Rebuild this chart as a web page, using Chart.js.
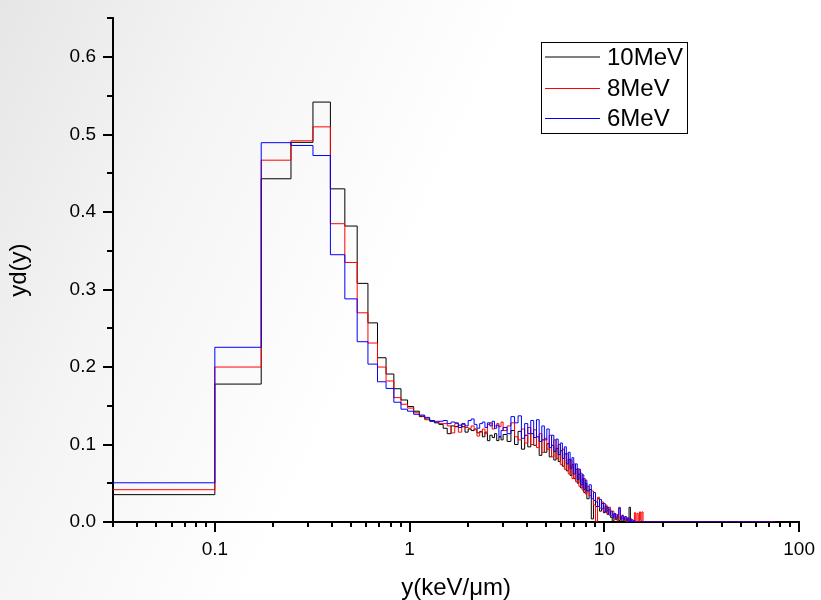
<!DOCTYPE html>
<html><head><meta charset="utf-8">
<script src="https://cdn.jsdelivr.net/npm/chart.js@4/dist/chart.umd.min.js"></script>
<style>
html,body{margin:0;padding:0;}
body{width:821px;height:600px;overflow:hidden;background:linear-gradient(115deg,#e6e6e6 0%,#f4f4f4 22%,#ffffff 48%,#ffffff 100%);}
#wrap{position:relative;width:821px;height:600px;}
</style></head><body><div id="wrap"><canvas id="c" width="821" height="600"></canvas></div>
<script>
// ---- data ----
const seriesLabels = ['10MeV', '8MeV', '6MeV'];
// histogram bin grid: [first left edge, bin width, number of bins] (keV/um)
const binSegments = [[0.027, 0.073, 41], [3.020, 0.146, 35], [8.130, 0.219, 36]];
const tailStart = 16.014;   // empty bins up to the end of the spectrum
const tailEnd = 75;

const yd10 = [
  0.0353, 0.178, 0.443, 0.490, 0.542, 0.430, 0.382, 0.308, 0.257, 0.212, 0.191, 0.172, 0.1575, 0.149, 0.143, 0.136,
  0.133, 0.130, 0.128, 0.126, 0.121, 0.114, 0.124, 0.123, 0.125, 0.123, 0.116, 0.120, 0.118, 0.120, 0.115, 0.117,
  0.110, 0.116, 0.105, 0.112, 0.109, 0.114, 0.105, 0.110, 0.106,
  0.113, 0.104, 0.118, 0.100, 0.117, 0.094, 0.112, 0.097, 0.114, 0.099, 0.110, 0.086, 0.106, 0.090, 0.101, 0.084,
  0.099, 0.080, 0.095, 0.078, 0.092, 0.072, 0.088, 0.066, 0.081, 0.060, 0.074, 0.056, 0.068, 0.050, 0.062, 0.044,
  0.056, 0.038, 0.050,
  0.030, 0.042, 0.004, 0.028, 0.020, 0.030, 0.014, 0.024, 0.012, 0.020, 0.010, 0.016, 0.006, 0.001, 0.010, 0.003,
  0.008, 0.002, 0.006, 0.001, 0.005, 0.000, 0.003, 0.000, 0.019, 0.000, 0.000, 0.000, 0.000, 0.000, 0.000, 0.000,
  0.000, 0.000, 0.000, 0.000,
  0.000
];
const yd8 = [
  0.0417, 0.200, 0.467, 0.492, 0.510, 0.385, 0.335, 0.270, 0.231, 0.200, 0.182, 0.1605, 0.152, 0.147, 0.141, 0.137,
  0.132, 0.131, 0.130, 0.127, 0.127, 0.124, 0.115, 0.127, 0.116, 0.126, 0.122, 0.121, 0.124, 0.119, 0.111, 0.116,
  0.120, 0.114, 0.126, 0.128, 0.120, 0.124, 0.127, 0.123, 0.129,
  0.118, 0.124, 0.128, 0.110, 0.106, 0.120, 0.102, 0.122, 0.100, 0.119, 0.096, 0.114, 0.090, 0.108, 0.094, 0.112,
  0.084, 0.106, 0.082, 0.100, 0.074, 0.094, 0.068, 0.088, 0.062, 0.080, 0.056, 0.075, 0.052, 0.069, 0.046, 0.063,
  0.041, 0.056, 0.036,
  0.046, 0.034, 0.040, 0.022, 0.001, 0.032, 0.018, 0.026, 0.014, 0.022, 0.011, 0.019, 0.008, 0.014, 0.004, 0.010,
  0.002, 0.019, 0.005, 0.009, 0.002, 0.007, 0.000, 0.006, 0.001, 0.000, 0.003, 0.000, 0.012, 0.000, 0.011, 0.000,
  0.013, 0.002, 0.013, 0.000,
  0.000
];
const yd6 = [
  0.0506, 0.2255, 0.4896, 0.486, 0.473, 0.345, 0.288, 0.2327, 0.2038, 0.181, 0.1724, 0.1546, 0.1456, 0.143, 0.139, 0.138,
  0.135, 0.131, 0.129, 0.130, 0.131, 0.127, 0.129, 0.128, 0.122, 0.127, 0.124, 0.131, 0.133, 0.126, 0.121, 0.127,
  0.129, 0.122, 0.128, 0.124, 0.130, 0.121, 0.125, 0.110, 0.118,
  0.122, 0.114, 0.136, 0.128, 0.137, 0.108, 0.127, 0.114, 0.131, 0.109, 0.132, 0.104, 0.124, 0.106, 0.120, 0.096,
  0.112, 0.091, 0.107, 0.087, 0.102, 0.082, 0.097, 0.075, 0.090, 0.069, 0.083, 0.062, 0.075, 0.055, 0.068, 0.048,
  0.061, 0.042, 0.054,
  0.040, 0.048, 0.030, 0.038, 0.026, 0.020, 0.029, 0.017, 0.024, 0.013, 0.019, 0.009, 0.014, 0.006, 0.011, 0.005,
  0.009, 0.018, 0.004, 0.008, 0.003, 0.007, 0.002, 0.005, 0.000, 0.004, 0.000, 0.002, 0.000, 0.000, 0.000, 0.000,
  0.000, 0.000, 0.000, 0.000,
  0.000
];
const xTickLabels = [0.1, 1, 10, 100];
const yTickLabels = [0, 0.1, 0.2, 0.3, 0.4, 0.5, 0.6];

// ---- build ----
const edges = [];
binSegments.forEach(([start, w, n]) => { for (let i = 0; i < n; i++) edges.push(+(start + w * i).toFixed(4)); });
edges.push(tailStart, tailEnd);

function stepPoints(vals) {
  const pts = vals.map((v, i) => ({ x: edges[i], y: v }));
  pts.push({ x: edges[vals.length], y: vals[vals.length - 1] });
  return pts;
}
const colors = ['#000000', '#ff0000', '#0000ff'];
const FONT = "'Liberation Sans', Arial, sans-serif";

const axisTicks = {
  id: 'axisTicks',
  afterDraw(chart) {
    const { ctx, chartArea: a, scales: { x, y } } = chart;
    ctx.save();
    ctx.strokeStyle = '#000';
    ctx.lineWidth = 2;
    const seg = (x1, y1, x2, y2) => { ctx.beginPath(); ctx.moveTo(x1, y1); ctx.lineTo(x2, y2); ctx.stroke(); };
    const xMinor = [];
    [0.01, 0.1, 1, 10].forEach(d => { for (let m = 2; m <= 9; m++) { const v = +(m * d).toPrecision(3); if (v >= 0.03 && v <= 100) xMinor.push(v); } });
    xMinor.forEach(v => { const p = Math.round(x.getPixelForValue(v)); seg(p, a.bottom, p, a.bottom + 5); });
    xTickLabels.forEach(v => { const p = Math.round(x.getPixelForValue(v)); seg(p, a.bottom, p, a.bottom + 10); });
    yTickLabels.forEach(v => { const p = Math.round(y.getPixelForValue(v)); seg(a.left - 10, p, a.left, p); });
    [0.05, 0.15, 0.25, 0.35, 0.45, 0.55, 0.65].forEach(v => { const p = Math.round(y.getPixelForValue(v)); seg(a.left - 6, p, a.left, p); });
    ctx.restore();
  }
};

const boxLegend = {
  id: 'boxLegend',
  afterDraw(chart) {
    const { ctx } = chart;
    const L = 541.5, T = 42.5, W = 146, H = 91;
    ctx.save();
    ctx.fillStyle = '#ffffff';
    ctx.fillRect(L, T, W, H);
    ctx.strokeStyle = '#000';
    ctx.lineWidth = 1;
    ctx.strokeRect(L, T, W, H);
    const rows = [57, 88.5, 118.5];
    chart.data.datasets.forEach((ds, i) => {
      ctx.strokeStyle = ds.borderColor;
      ctx.lineWidth = 1;
      ctx.beginPath(); ctx.moveTo(545, rows[i]); ctx.lineTo(600, rows[i]); ctx.stroke();
      ctx.fillStyle = '#000';
      ctx.font = '24px ' + FONT;
      ctx.textBaseline = 'middle';
      ctx.textAlign = 'left';
      ctx.fillText(ds.label, 607, rows[i] + 1);
    });
    ctx.restore();
  }
};

new Chart(document.getElementById('c'), {
  type: 'line',
  data: {
    datasets: [yd10, yd8, yd6].map((vals, i) => ({
      label: seriesLabels[i],
      data: stepPoints(vals),
      borderColor: colors[i],
      borderWidth: 1,
      pointRadius: 0,
      stepped: 'before',
      fill: false,
      order: 3 - i
    }))
  },
  options: {
    responsive: false,
    animation: false,
    devicePixelRatio: 1,
    layout: { padding: { top: 12, right: 19, bottom: 0, left: 0 } },
    plugins: { legend: { display: false }, tooltip: { enabled: false } },
    scales: {
      x: {
        type: 'logarithmic', min: 0.03, max: 100,
        afterBuildTicks: s => { s.ticks = xTickLabels.map(v => ({ value: v })); },
        afterFit: s => { s.height = 78; },
        ticks: { callback: v => String(v), color: '#000', font: { size: 19, family: FONT }, padding: 6, maxRotation: 0, autoSkip: false },
        grid: { drawOnChartArea: false, drawTicks: true, tickLength: 10, color: 'rgba(0,0,0,0)' },
        border: { display: true, color: '#000', width: 2 },
        title: { display: true, text: 'y(keV/μm)', color: '#000', font: { size: 24, family: FONT, lineHeight: 1 }, padding: { top: 0, bottom: 0 } }
      },
      y: {
        type: 'linear', min: 0, max: 0.65,
        afterBuildTicks: s => { s.ticks = yTickLabels.map(v => ({ value: v })); },
        afterFit: s => { s.width = 113; },
        ticks: { callback: v => v.toFixed(1), color: '#000', font: { size: 19, family: FONT }, padding: 7 },
        grid: { drawOnChartArea: false, drawTicks: true, tickLength: 10, color: 'rgba(0,0,0,0)' },
        border: { display: true, color: '#000', width: 2 },
        title: { display: true, text: 'yd(y)', color: '#000', font: { size: 24, family: FONT, lineHeight: 1 }, padding: { top: 7, bottom: 0 } }
      }
    }
  },
  plugins: [axisTicks, boxLegend]
});
</script></body></html>
